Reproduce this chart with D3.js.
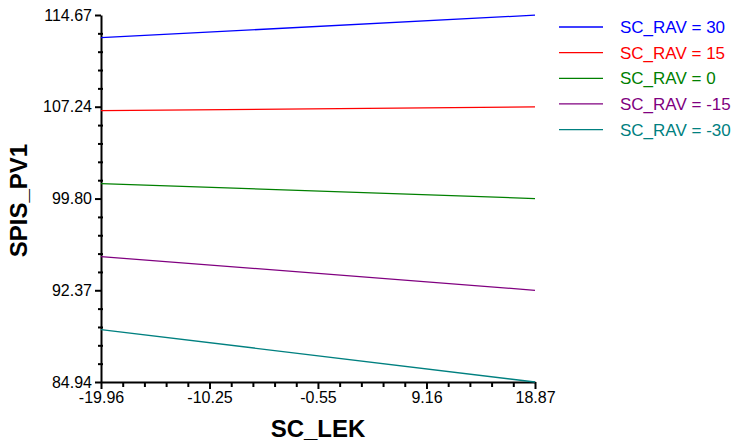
<!DOCTYPE html>
<html>
<head>
<meta charset="utf-8">
<script src="https://cdn.jsdelivr.net/npm/d3@7"></script>
<style>
  body { margin: 0; background: #fff; }
  svg { display: block; font-family: "Liberation Sans", Arial, sans-serif; }
</style>
</head>
<body>
<script>
const xTicks = [-19.96, -10.25, -0.55, 9.16, 18.87];
const yTicks = [84.94, 92.37, 99.80, 107.24, 114.67];
const seriesNames = ["SC_RAV = 30", "SC_RAV = 15", "SC_RAV = 0", "SC_RAV = -15", "SC_RAV = -30"];
const seriesColors = ["#0000ff", "#ff0000", "#008000", "#800080", "#008080"];
// value at SC_LEK = -19.96 and at 18.87
const leftValues = [112.83, 106.92, 101.01, 95.10, 89.19];
const rightValues = [114.66, 107.23, 99.80, 92.37, 84.94];

const width = 731, height = 445;
const svg = d3.select("body").append("svg")
    .attr("width", width)
    .attr("height", height);

const x = d3.scaleLinear().domain([-19.96, 18.87]).range([101, 535]);
const y = d3.scaleLinear().domain([84.94, 114.67]).range([382, 15]);

// minor ticks, 4 between each pair of majors
function minors(ticks) {
    const out = [];
    for (let i = 0; i < ticks.length - 1; i++) {
        const step = (ticks[i + 1] - ticks[i]) / 5;
        for (let k = 1; k < 5; k++) out.push(ticks[i] + k * step);
    }
    return out;
}

// x axis
svg.append("g")
    .attr("transform", `translate(0,${y.range()[0]})`)
    .call(d3.axisBottom(x).tickValues(minors(xTicks)).tickSize(5).tickFormat(""))
    .call(g => g.select(".domain").remove())
    .selectAll("line").attr("stroke", "#000").attr("stroke-width", 2);

const xAxis = svg.append("g")
    .attr("transform", `translate(0,${y.range()[0]})`)
    .call(d3.axisBottom(x).tickValues(xTicks).tickSize(7).tickSizeOuter(0).tickPadding(3)
        .tickFormat(d => d.toFixed(2)));
xAxis.select(".domain").attr("stroke", "#000").attr("stroke-width", 2);
xAxis.selectAll("line").attr("stroke", "#000").attr("stroke-width", 2);
xAxis.selectAll("text").attr("font-size", 16).attr("fill", "#000")
    .attr("font-family", "Liberation Sans, Arial, sans-serif");

// y axis
svg.append("g")
    .attr("transform", `translate(${x.range()[0]},0)`)
    .call(d3.axisLeft(y).tickValues(minors(yTicks)).tickSize(4).tickFormat(""))
    .call(g => g.select(".domain").remove())
    .selectAll("line").attr("x2", -3).attr("x1", 2)
    .attr("stroke", "#000").attr("stroke-width", 2);

const yAxis = svg.append("g")
    .attr("transform", `translate(${x.range()[0]},0)`)
    .call(d3.axisLeft(y).tickValues(yTicks).tickSize(6).tickSizeOuter(0).tickPadding(3)
        .tickFormat(d => d.toFixed(2)));
yAxis.select(".domain").attr("stroke", "#000").attr("stroke-width", 2);
yAxis.selectAll("line").attr("stroke", "#000").attr("stroke-width", 2);
yAxis.selectAll("text").attr("font-size", 16).attr("fill", "#000")
    .attr("font-family", "Liberation Sans, Arial, sans-serif");

// axis titles
svg.append("text")
    .attr("x", (x.range()[0] + x.range()[1]) / 2)
    .attr("y", 437)
    .attr("text-anchor", "middle")
    .attr("font-size", 24)
    .attr("font-weight", "bold")
    .text("SC_LEK");

svg.append("text")
    .attr("transform", `translate(27,${(y.range()[0] + y.range()[1]) / 2 + 2}) rotate(-90)`)
    .attr("text-anchor", "middle")
    .attr("font-size", 24)
    .attr("font-weight", "bold")
    .text("SPIS_PV1");

// lines
const line = d3.line().x(d => x(d[0])).y(d => y(d[1]));
seriesNames.forEach((name, i) => {
    svg.append("path")
        .datum([[xTicks[0], leftValues[i]], [xTicks[xTicks.length - 1], rightValues[i]]])
        .attr("fill", "none")
        .attr("stroke", seriesColors[i])
        .attr("stroke-width", 1.3)
        .attr("d", line);
});

// legend
const legend = svg.append("g").attr("transform", "translate(559,27)");
const items = legend.selectAll("g")
    .data(seriesNames)
    .enter()
    .append("g")
    .attr("transform", (d, i) => `translate(0,${i * 25.65})`);
items.append("line")
    .attr("x1", 0).attr("x2", 44)
    .attr("stroke", (d, i) => seriesColors[i])
    .attr("stroke-width", 1.3);
items.append("text")
    .attr("x", 61)
    .attr("y", 6)
    .attr("font-size", 17)
    .attr("fill", (d, i) => seriesColors[i])
    .text(d => d);
</script>
</body>
</html>
